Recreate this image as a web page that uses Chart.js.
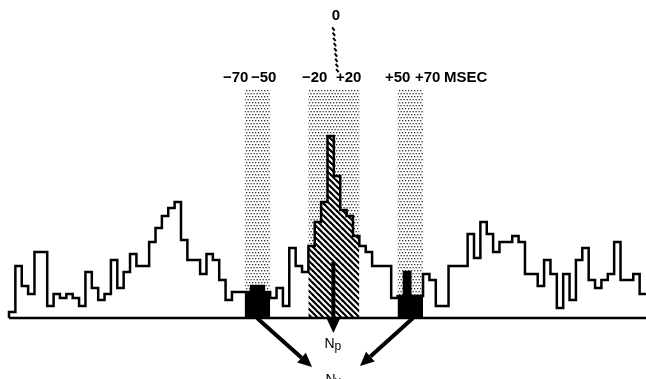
<!DOCTYPE html>
<html>
<head>
<meta charset="utf-8">
<script src="https://cdn.jsdelivr.net/npm/chart.js@4.4.1/dist/chart.umd.min.js"></script>
<style>
  html, body { margin: 0; padding: 0; background: #fff; }
  canvas { display: block; }
</style>
</head>
<body>
<canvas id="correlograma" width="646" height="379"></canvas>
<script>
// Conteos del correlograma, bins de 5 ms desde -255 ms
const binWidthMs = 5;
const firstBinMs = -255;
const counts = [
  3, 26, 16, 12, 33, 33, 6, 12, 10, 12,
  10, 6, 23, 15, 9, 12, 29, 15, 23, 32,
  26, 26, 38, 45, 51, 55, 58, 39, 29, 29,
  22, 32, 29, 19, 9, 13, 13, 13, 16, 16,
  13, 10, 15, 6, 35, 26, 23, 36, 48, 58,
  91, 71, 54, 51, 41, 36, 33, 26, 26, 26,
  10, 11, 23, 11, 11, 22, 19, 6, 6, 26,
  26, 26, 42, 30, 48, 42, 33, 38, 38, 41,
  38, 22, 22, 16, 29, 22, 5, 22, 9, 29,
  35, 19, 15, 19, 22, 38, 19, 19, 22, 12
];

// Ventanas sombreadas (ms) y sus etiquetas
const ventanaIzq = [-70, -50];
const ventanaCentro = [-20, 20];
const ventanaDer = [50, 70];
const etiquetasVentanas = ['−70', '−50', '−20', '+20', '+50', '+70'];
const etiquetaUnidad = 'MSEC';
const etiquetaCero = '0';

const binStarts = counts.map((_, i) => firstBinMs + i * binWidthMs);
const lastEdgeMs = firstBinMs + counts.length * binWidthMs;

function puntosEscalon(desde, hasta) {
  const pts = [];
  binStarts.forEach((t, i) => {
    if (t >= desde && t < hasta) pts.push({ x: t, y: counts[i] });
  });
  pts.push({ x: hasta, y: pts[pts.length - 1].y });
  return pts;
}

const canvas = document.getElementById('correlograma');
const ctx = canvas.getContext('2d');

// patron de puntos (bandas) y de rayado diagonal (centro)
function patronPuntos() {
  const c = document.createElement('canvas');
  c.width = 6; c.height = 6;
  const g = c.getContext('2d');
  g.fillStyle = '#fff';
  g.fillRect(0, 0, 6, 6);
  g.fillStyle = '#333';
  [[0, 0], [3, 0], [1.5, 3], [4.5, 3]].forEach(([x, y]) => g.fillRect(x, y, 1.3, 1.3));
  return ctx.createPattern(c, 'repeat');
}

function patronRayado() {
  const c = document.createElement('canvas');
  c.width = 6; c.height = 6;
  const g = c.getContext('2d');
  g.fillStyle = '#fff';
  g.fillRect(0, 0, 6, 6);
  g.strokeStyle = '#000';
  g.lineWidth = 2.2;
  [-6, 0, 6].forEach(k => {
    g.beginPath();
    g.moveTo(-1, -1 + k);
    g.lineTo(7, 7 + k);
    g.stroke();
  });
  return ctx.createPattern(c, 'repeat');
}

const puntos = patronPuntos();
const rayado = patronRayado();
const bandTop = 114; // altura de las bandas punteadas (en unidades de conteo)

const bandas = {
  id: 'bandas',
  beforeDatasetsDraw(chart) {
    const { ctx, scales: { x, y } } = chart;
    ctx.save();
    ctx.fillStyle = puntos;
    [ventanaIzq, ventanaCentro, ventanaDer].forEach(([a, b]) => {
      const x0 = x.getPixelForValue(a), x1 = x.getPixelForValue(b);
      const y0 = y.getPixelForValue(bandTop), y1 = y.getPixelForValue(0);
      ctx.fillRect(x0, y0, x1 - x0, y1 - y0);
    });
    ctx.restore();
  }
};

function flecha(c, x0, y0, x1, y1) {
  const ang = Math.atan2(y1 - y0, x1 - x0);
  const largo = 14, medio = 6.5;
  const bx = x1 - largo * Math.cos(ang), by = y1 - largo * Math.sin(ang);
  c.beginPath();
  c.moveTo(x0, y0);
  c.lineTo(bx, by);
  c.lineWidth = 4;
  c.stroke();
  c.beginPath();
  c.moveTo(x1, y1);
  c.lineTo(bx + medio * Math.sin(ang), by - medio * Math.cos(ang));
  c.lineTo(bx - medio * Math.sin(ang), by + medio * Math.cos(ang));
  c.closePath();
  c.fill();
}

const anotaciones = {
  id: 'anotaciones',
  afterDatasetsDraw(chart) {
    const { ctx, scales: { x, y } } = chart;
    ctx.save();
    ctx.strokeStyle = '#000';
    ctx.fillStyle = '#000';

    // linea base
    ctx.lineWidth = 2.5;
    ctx.beginPath();
    ctx.moveTo(x.getPixelForValue(firstBinMs), y.getPixelForValue(0));
    ctx.lineTo(x.getPixelForValue(lastEdgeMs), y.getPixelForValue(0));
    ctx.stroke();

    // marca del cero (trazo punteado inclinado)
    const x0 = x.getPixelForValue(0);
    ctx.lineWidth = 2;
    for (let k = 0; k < 9; k++) {
      const cx = x0 - 0.5 + k * 0.5, cy = 29 + k * 5.2;
      ctx.beginPath();
      ctx.moveTo(cx - 1.2, cy - 1.6);
      ctx.lineTo(cx + 1.2, cy + 1.6);
      ctx.stroke();
    }

    // textos superiores
    ctx.font = 'bold 15px "Liberation Sans", Arial, sans-serif';
    ctx.textBaseline = 'alphabetic';
    ctx.textAlign = 'center';
    ctx.fillText(etiquetaCero, x0 + 2, 20);
    ctx.textAlign = 'left';
    const posX = [223, 251, 302, 336, 385, 415];
    etiquetasVentanas.forEach((t, i) => ctx.fillText(t, posX[i], 82));
    ctx.fillText(etiquetaUnidad, 444, 82);

    // flechas
    flecha(ctx, x0 - 0.5, 262, x0 - 0.5, 333);
    flecha(ctx, 257, 318, 312, 367);
    flecha(ctx, 413, 318, 360, 366);

    // Np y Nv
    ctx.font = '14px "Liberation Sans", Arial, sans-serif';
    ctx.fillText('N', 324.5, 348);
    ctx.fillText('N', 325.5, 384);
    ctx.font = '12px "Liberation Sans", Arial, sans-serif';
    ctx.fillText('p', 334.5, 350);
    ctx.fillText('ν', 335, 385);
    ctx.restore();
  }
};

const contorno = [{ x: firstBinMs, y: 0 }, ...puntosEscalon(firstBinMs, lastEdgeMs)];

new Chart(ctx, {
  type: 'line',
  data: {
    datasets: [
      {
        label: 'contorno',
        data: contorno,
        stepped: 'before',
        borderColor: '#000',
        borderWidth: 2.5,
        pointRadius: 0,
        fill: false,
        clip: false
      },
      {
        label: 'izq',
        data: puntosEscalon(ventanaIzq[0], ventanaIzq[1]),
        stepped: 'before',
        borderWidth: 0,
        pointRadius: 0,
        backgroundColor: '#000',
        fill: 'origin'
      },
      {
        label: 'der',
        data: puntosEscalon(ventanaDer[0], ventanaDer[1]),
        stepped: 'before',
        borderWidth: 0,
        pointRadius: 0,
        backgroundColor: '#000',
        fill: 'origin'
      },
      {
        label: 'centro',
        data: puntosEscalon(ventanaCentro[0], ventanaCentro[1]),
        stepped: 'before',
        borderWidth: 0,
        pointRadius: 0,
        backgroundColor: rayado,
        fill: 'origin'
      }
    ]
  },
  options: {
    responsive: false,
    animation: false,
    events: [],
    layout: { padding: { left: 9, right: 0, top: 18, bottom: 61 } },
    scales: {
      x: { type: 'linear', min: firstBinMs, max: lastEdgeMs, display: false },
      y: { min: 0, max: 150, display: false }
    },
    plugins: {
      legend: { display: false },
      tooltip: { enabled: false }
    }
  },
  plugins: [bandas, anotaciones]
});
</script>
</body>
</html>
